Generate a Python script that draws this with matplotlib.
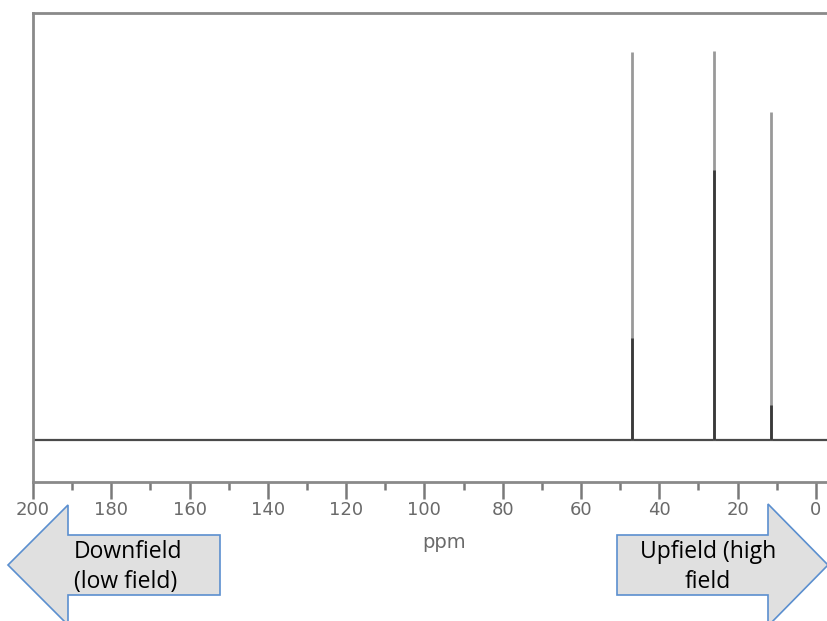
import matplotlib.pyplot as plt
from matplotlib.patches import Polygon
from matplotlib.ticker import MultipleLocator

# Picos do espectro de 13C (ppm, altura total, altura da parte escura)
deslocamentos = [47.0, 26.0, 11.5]
alturas = [388, 389, 328]
alturas_escuras = [102, 270, 35]

ticks_maiores = [200, 180, 160, 140, 120, 100, 80, 60, 40, 20, 0]

fig = plt.figure(figsize=(8.28, 6.21), dpi=100)
W, H = 828, 621

# eixo ultrapassa a borda direita da figura (recortado como no original)
ax = fig.add_axes([33 / W, (H - 482) / H, (855 - 33) / W, (482 - 13) / H])
ax.set_xlim(200, -10)
ax.set_ylim(-42, 427)

# linha de base
ax.axhline(0, color='#4a4a4a', lw=1.6, zorder=2)

# picos: parte clara (altura total) e parte escura
ax.vlines(deslocamentos, 0, alturas, color='#999999', lw=2.0, zorder=3)
ax.vlines(deslocamentos, 0, alturas_escuras, color='#3a3a3a', lw=2.0, zorder=4)

for lado in ['left', 'top', 'bottom']:
    ax.spines[lado].set_color('#8a8a8a')
    ax.spines[lado].set_linewidth(2)
ax.spines['right'].set_visible(False)

ax.set_yticks([])
ax.set_xticks(ticks_maiores)
ax.xaxis.set_minor_locator(MultipleLocator(10))
ax.tick_params(axis='x', which='major', length=12, width=1.8, color='#7a7a7a',
               labelcolor='#6a6a6a', labelsize=13, pad=2)
ax.tick_params(axis='x', which='minor', length=6, width=1.8, color='#7a7a7a')
ax.set_xlabel('ppm', color='#6a6a6a', fontsize=14, labelpad=10)

# setas de campo (coordenadas em pixels da figura)
def seta(pontos):
    pts = [(x / W, 1 - y / H) for x, y in pontos]
    fig.add_artist(Polygon(pts, closed=True, transform=fig.transFigure,
                           facecolor='#e0e0e0', edgecolor='#5b8fcf', lw=1.2,
                           clip_on=False))

seta([(8, 565), (68, 505), (68, 535), (220, 535), (220, 595), (68, 595), (68, 625)])
seta([(617, 535), (768, 535), (768, 504), (828, 565), (768, 626), (768, 595), (617, 595)])

fig.text(74 / W, 1 - 567 / H, 'Downfield\n(low field)', fontsize=16.5,
         family='Open Sans', ha='left', va='center', linespacing=1.3)
fig.text(708 / W, 1 - 567 / H, 'Upfield (high\nfield', fontsize=16.5,
         family='Open Sans', ha='center', va='center', linespacing=1.3)

fig.savefig('out.png', dpi=100)
